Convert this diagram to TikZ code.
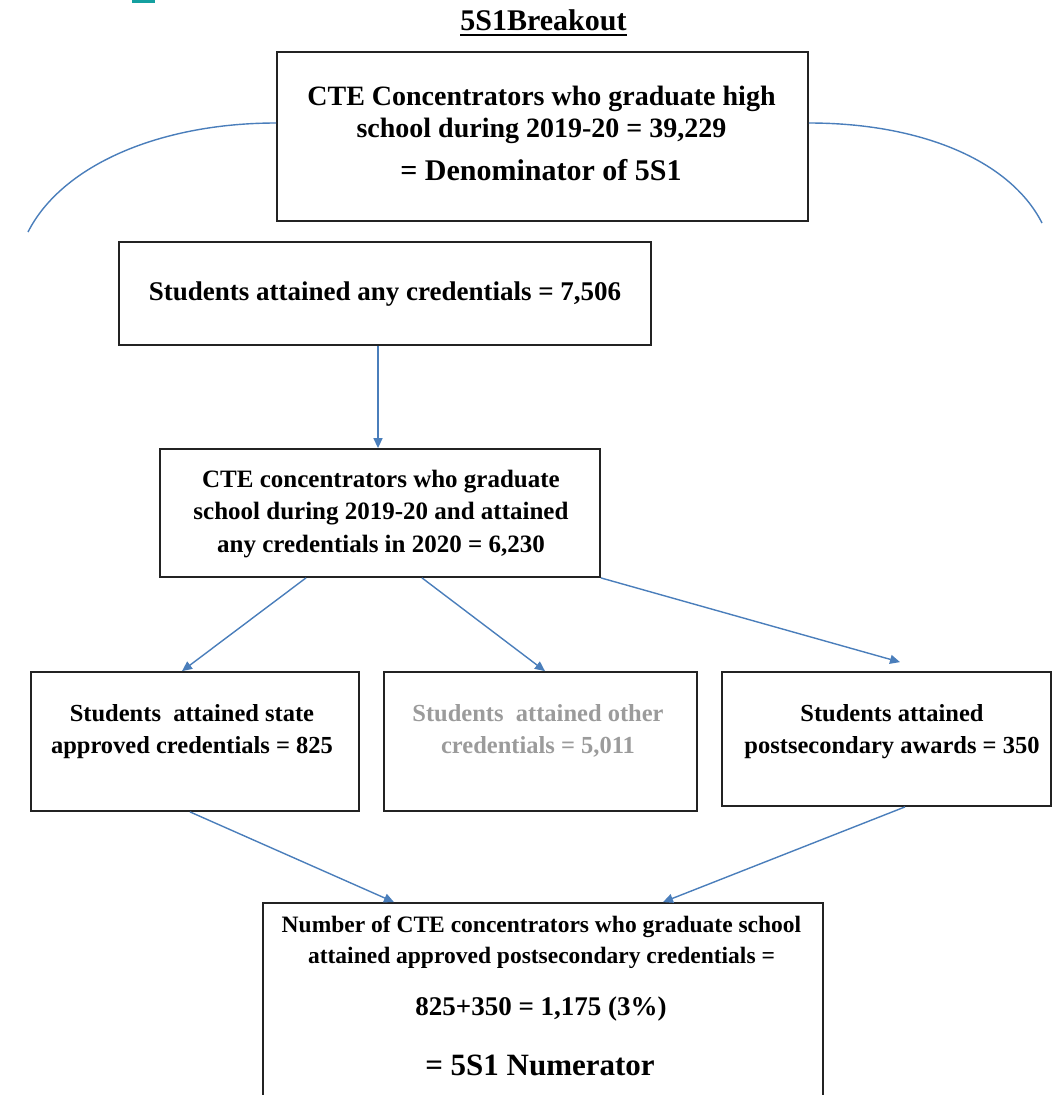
\documentclass[tikz,border=0pt]{standalone}
\usepackage{fontspec}
\setmainfont{Liberation Serif}
\usetikzlibrary{arrows.meta}
\definecolor{linkblue}{RGB}{74,126,187}
\definecolor{boxline}{RGB}{35,35,35}
\definecolor{greytext}{RGB}{155,155,155}
\definecolor{tealmark}{RGB}{20,160,160}
\begin{document}
\begin{tikzpicture}[x=1pt,y=-1pt,
  box/.style={draw=boxline, line width=1.8pt, inner sep=0pt, rectangle},
  txt/.style={inner sep=0pt, anchor=base, align=center},
  arr/.style={draw=linkblue, line width=1.4pt, -{Triangle[length=10pt,width=9pt]}},
  arc/.style={draw=linkblue, line width=1.4pt}
]
\useasboundingbox (0,0) rectangle (1053,1095);
\clip (0,0) rectangle (1053,1095);
\fill[tealmark] (132,0) rectangle (155,3);

% title
\node[txt, font=\bfseries\fontsize{30}{34}\selectfont] (title) at (543.5,30) {5S1Breakout};
\draw[line width=2.2pt] ([yshift=-5pt]title.base west) -- ([yshift=-5pt]title.base east);

% boxes
\node[box, minimum width=531pt, minimum height=169pt] (top) at (542.5,136.5) {};
\node[box, minimum width=532pt, minimum height=103pt] (any) at (385,293.5) {};
\node[box, minimum width=440pt, minimum height=128pt] (grad) at (380,513) {};
\node[box, minimum width=328pt, minimum height=139pt] (state) at (195,741.5) {};
\node[box, minimum width=313pt, minimum height=139pt] (other) at (540.5,741.5) {};
\node[box, minimum width=329pt, minimum height=134pt] (post) at (886.5,739) {};
\node[box, minimum width=560pt, minimum height=217pt] (num) at (543,1011.5) {};

% texts (base anchor = baseline of last line)
\node[txt, font=\bfseries\fontsize{28}{32}\selectfont] (toptext) at (541.5,137) {CTE Concentrators who graduate high\\ school during 2019-20 = 39,229};
\node[txt, font=\bfseries\fontsize{30}{34}\selectfont] (toptextb) at (541,180) {= Denominator of 5S1};
\node[txt, font=\bfseries\fontsize{27}{32}\selectfont] (anytext) at (385,300) {Students attained any credentials = 7,506};
\node[txt, font=\bfseries\fontsize{25}{32.5}\selectfont] (gradtext) at (381,552) {CTE concentrators who graduate\\ school during 2019-20 and attained\\ any credentials in 2020 = 6,230};
\node[txt, font=\bfseries\fontsize{24.5}{32}\selectfont] (statetext) at (192,753) {Students\ \ attained state\\ approved credentials = 825};
\node[txt, text=greytext, font=\bfseries\fontsize{24.5}{32}\selectfont] (othertext) at (538,753) {Students\ \ attained other\\ credentials = 5,011};
\node[txt, font=\bfseries\fontsize{24.5}{32}\selectfont] (posttext) at (892,753) {Students attained\\ postsecondary awards = 350};
\node[txt, font=\bfseries\fontsize{23.5}{31}\selectfont] (numtext) at (541.5,963) {Number of CTE concentrators who graduate school\\ attained approved postsecondary credentials =};
\node[txt, font=\bfseries\fontsize{27}{32}\selectfont] (numtextb) at (541,1015) {825+350 = 1,175 (3\%)};
\node[txt, font=\bfseries\fontsize{31}{36}\selectfont] (numtextc) at (540,1075) {= 5S1 Numerator};

% arcs
\draw[arc] ([yshift=13.5pt]top.west) .. controls (160,123) and (62,165) .. (28,232);
\draw[arc] ([yshift=13.5pt]top.east) .. controls (920,123) and (1010,160) .. (1042,223);

% connectors
\draw[arr] ([xshift=-7pt]any.south) -- ([xshift=-2pt]grad.north);
\draw[arr] ([xshift=-74pt]grad.south) -- ([xshift=-13pt]state.north);
\draw[arr] ([xshift=42pt]grad.south) -- ([xshift=4.5pt]other.north);
\draw[arr] (grad.south east) -- ([xshift=13.5pt,yshift=9pt]post.north);
\draw[arr] ([xshift=-5pt]state.south) -- ([xshift=-149pt]num.north);
\draw[arr] ([xshift=18.5pt]post.south) -- ([xshift=120pt]num.north);
\end{tikzpicture}
\end{document}
